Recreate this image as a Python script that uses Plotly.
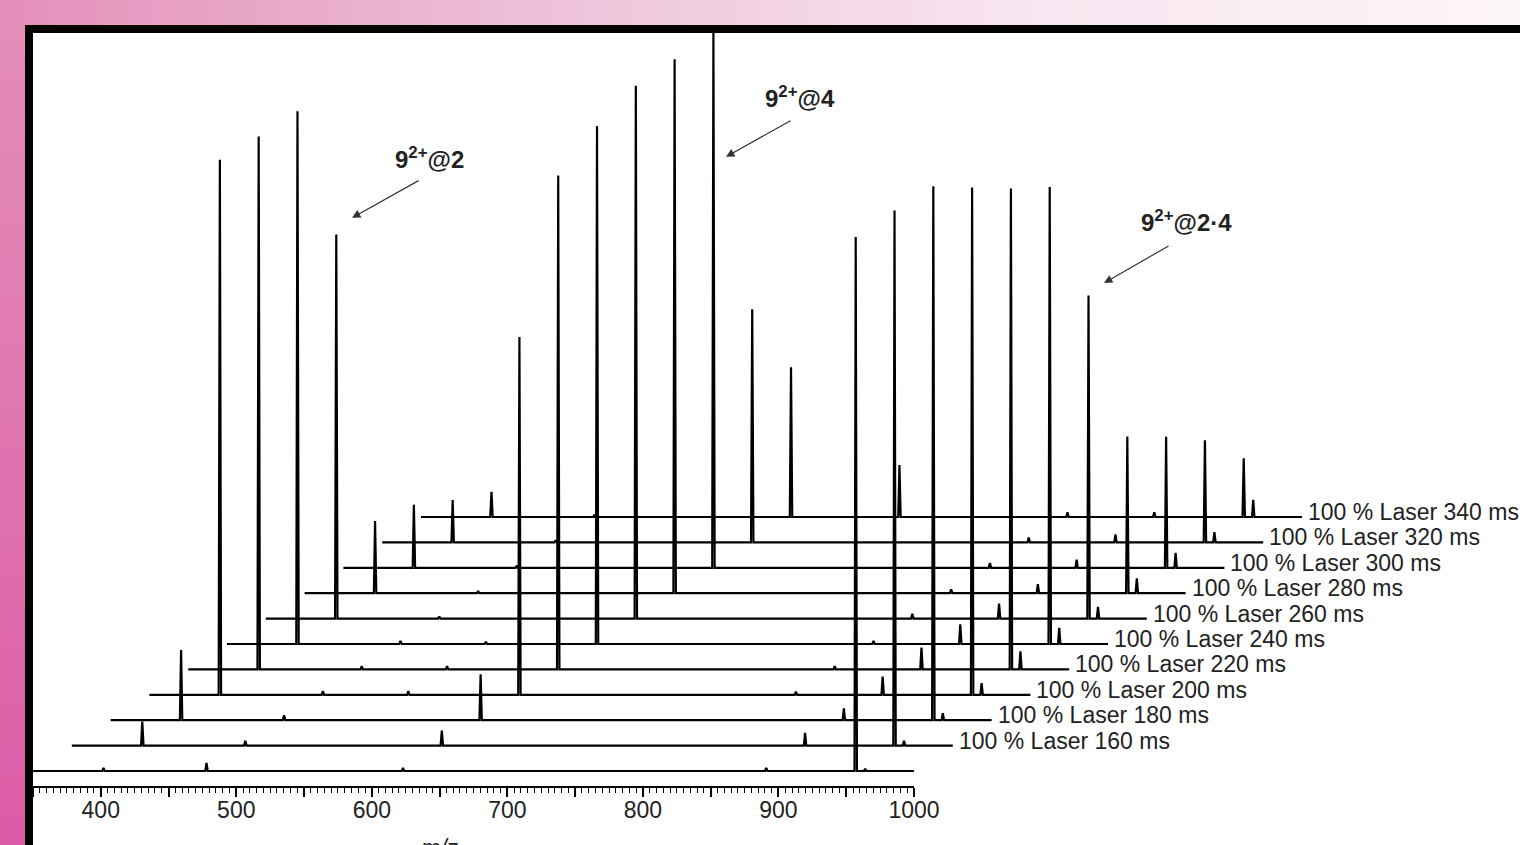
import plotly.graph_objects as go

# ---------------- data ----------------
MZ_MIN, MZ_MAX = 350, 1000
ion_mz = [402, 478, 541, 623, 703, 827, 891, 957, 964]

# relative intensity of each ion in each spectrum (bottom spectrum first)
int_402 = [0.6, 4.5, 13.1, 100, 99.6, 99.6, 71.8, 13.5, 11.8, 7.9, 4.7]
int_478 = [1.5, 0.9, 0.9, 0.7, 0.6, 0.6, 0.4, 0.4, 0.4, 0.4, 0.4]
int_541 = [0, 0, 0, 0.7, 0.6, 0.4, 0, 0, 0, 0, 0]
int_623 = [0.6, 2.8, 8.6, 66.9, 92.3, 96.8, 99.6, 99.8, 100, 43.6, 28.0]
int_703 = [0, 0, 0, 0, 0, 0, 0, 0, 0, 0, 9.7]
int_827 = [0, 0, 0, 0.6, 0.6, 0.6, 0.9, 0.7, 0.9, 0.9, 0.9]
int_891 = [0.6, 2.4, 2.2, 3.4, 4.1, 3.7, 2.8, 1.7, 1.5, 1.5, 0.9]
int_957 = [99.8, 100, 99.8, 94.8, 89.9, 85.4, 60.4, 29.3, 24.5, 19.1, 11.0]
int_964 = [0.4, 0.9, 1.3, 2.2, 3.4, 3.0, 2.2, 2.8, 2.8, 1.9, 3.2]
intensities = [int_402, int_478, int_541, int_623, int_703, int_827, int_891, int_957, int_964]

trace_labels = ["", "100 % Laser 160 ms", "100 % Laser 180 ms", "100 % Laser 200 ms",
                "100 % Laser 220 ms", "100 % Laser 240 ms", "100 % Laser 260 ms",
                "100 % Laser 280 ms", "100 % Laser 300 ms", "100 % Laser 320 ms",
                "100 % Laser 340 ms"]

tick_vals = [350, 400, 450, 500, 550, 600, 650, 700, 750, 800, 850, 900, 950, 1000]
tick_text = ["", "400", "", "500", "", "600", "", "700", "", "800", "", "900", "", "1000"]

# ---------------- style / geometry ----------------
W, H = 1520, 845
ML, MR, MT, MB = 33, 0, 33, 59
PX_PER_MZ = 881.0 / 650.0
X2_MAX = MZ_MIN + (W - ML - MR) / PX_PER_MZ
SHIFT_MZ = 38.8 / PX_PER_MZ      # horizontal offset per spectrum
SHIFT_Y = 25.4 / 5.35             # vertical offset per spectrum
Y_RANGE = [-15 / 5.35, 738 / 5.35]
PEAK_HW = 0.9
FONT = "Arial, Liberation Sans, Helvetica, sans-serif"

fig = go.Figure()

for k in range(len(trace_labels)):
    peaks = sorted((mz, h[k]) for mz, h in zip(ion_mz, intensities) if h[k] > 0)
    xs, ys = [MZ_MIN], [0]
    for mz, h in peaks:
        xs += [mz - PEAK_HW, mz, mz + PEAK_HW]
        ys += [0, h, 0]
    xs.append(MZ_MAX)
    ys.append(0)
    x = [v + k * SHIFT_MZ for v in xs]
    y = [v + k * SHIFT_Y for v in ys]
    fig.add_trace(go.Scatter(
        x=x, y=y, mode="lines",
        line=dict(color="black", width=2.2),
        xaxis="x" if k == 0 else "x2", yaxis="y",
        showlegend=False, hoverinfo="skip"))

annotations = []
for k, lab in enumerate(trace_labels):
    if not lab:
        continue
    annotations.append(dict(
        x=MZ_MAX + k * SHIFT_MZ + 3, y=k * SHIFT_Y, xref="x2", yref="y",
        text=lab, showarrow=False, xanchor="left", yanchor="middle", yshift=5,
        font=dict(family=FONT, size=23, color="#222")))

# ion annotations (text + arrow)
ion_notes = [
    ("<b>9<sup>2+</sup>@2</b>", 642.9, 114.6, 585.4, 103.4, 68, -38),
    ("<b>9<sup>2+</sup>@4</b>", 915.9, 126.0, 861.3, 114.8, 66, -37),
    ("<b>9<sup>2+</sup>@2·4</b>", 1201.4, 102.8, 1140.2, 91.2, 66, -38),
]
for txt, tx, ty, hx, hy, ax, ay in ion_notes:
    annotations.append(dict(x=tx, y=ty, xref="x2", yref="y", text=txt, showarrow=False,
                            font=dict(family=FONT, size=24, color="#222")))
    annotations.append(dict(x=hx, y=hy, xref="x2", yref="y", text="", showarrow=True,
                            ax=ax, ay=ay, arrowhead=2, arrowsize=1.4, arrowwidth=1.2,
                            arrowcolor="#333"))

annotations.append(dict(x=(440 - ML) / (W - ML - MR), y=-47 / (H - MT - MB),
                        xref="paper", yref="paper", text="<i>m/z</i>", showarrow=False,
                        xanchor="center", yanchor="top",
                        font=dict(family=FONT, size=23, color="#222")))

# ---------------- decorative frame (pink gradient + black border) ----------------
pw, ph = W - ML - MR, H - MT - MB


def px_x(p):
    return (p - ML) / pw


def px_y(p):
    return (H - MB - p) / ph


def lerp(c0, c1, t):
    return tuple(int(round(a + (b - a) * t)) for a, b in zip(c0, c1))


top_stops = [(0, (228, 143, 186)), (500, (236, 190, 213)), (1000, (248, 228, 239)), (1520, (253, 246, 248))]
shapes = []
n = 60
for i in range(n):
    x0 = W * i / n
    x1 = W * (i + 1) / n + 1
    xm = (x0 + x1) / 2
    for (a, ca), (b, cb) in zip(top_stops[:-1], top_stops[1:]):
        if a <= xm <= b:
            c = lerp(ca, cb, (xm - a) / (b - a))
            break
    shapes.append(dict(type="rect", xref="paper", yref="paper", layer="above",
                       x0=px_x(x0), x1=px_x(x1), y0=px_y(25), y1=px_y(0),
                       fillcolor="rgb(%d,%d,%d)" % c, line=dict(width=0)))
for i in range(n):
    y0 = H * i / n
    y1 = H * (i + 1) / n + 1
    c = lerp((228, 143, 186), (220, 92, 166), (y0 + y1) / 2 / H)
    shapes.append(dict(type="rect", xref="paper", yref="paper", layer="above",
                       x0=px_x(0), x1=px_x(25), y0=px_y(y1), y1=px_y(y0),
                       fillcolor="rgb(%d,%d,%d)" % c, line=dict(width=0)))
shapes.append(dict(type="rect", xref="paper", yref="paper", layer="above",
                   x0=px_x(25), x1=px_x(W + 2), y0=px_y(33), y1=px_y(25),
                   fillcolor="black", line=dict(width=0)))
shapes.append(dict(type="rect", xref="paper", yref="paper", layer="above",
                   x0=px_x(25), x1=px_x(33), y0=px_y(H + 2), y1=px_y(25),
                   fillcolor="black", line=dict(width=0)))

fig.update_layout(
    width=W, height=H,
    margin=dict(l=ML, r=MR, t=MT, b=MB, pad=0, autoexpand=False),
    paper_bgcolor="white", plot_bgcolor="rgba(0,0,0,0)",
    showlegend=False,
    xaxis=dict(domain=[0, (MZ_MAX - MZ_MIN) / (X2_MAX - MZ_MIN)], range=[MZ_MIN, MZ_MAX],
               anchor="y", showgrid=False, zeroline=False, automargin=False,
               showline=True, linecolor="black", linewidth=2,
               tickmode="array", tickvals=tick_vals, ticktext=tick_text,
               ticks="outside", ticklen=9, tickwidth=1.5, tickcolor="black",
               ticklabelstandoff=-7,
               tickfont=dict(family=FONT, size=23, color="#222"),
               minor=dict(dtick=5, tick0=350, ticks="outside", ticklen=5, tickwidth=1.2,
                          tickcolor="black", showgrid=False)),
    xaxis2=dict(domain=[0, 1], range=[MZ_MIN, X2_MAX], anchor="y", automargin=False,
                visible=False, showgrid=False, zeroline=False),
    yaxis=dict(domain=[0, 1], range=Y_RANGE, anchor="x", visible=False, automargin=False,
               showgrid=False, zeroline=False),
    annotations=annotations,
    shapes=shapes,
)

fig.write_html("out.html")
